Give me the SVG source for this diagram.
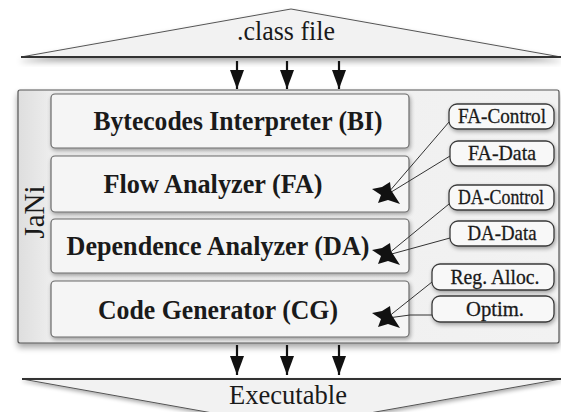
<svg xmlns="http://www.w3.org/2000/svg" xmlns:xlink="http://www.w3.org/1999/xlink" width="561" height="412" viewBox="0 0 561 412">
<defs>
<style>
.big{font-family:"Liberation Serif",serif;font-size:27px;fill:#1a1a1a;text-anchor:middle}
.mod{font-family:"Liberation Serif",serif;font-size:27px;font-weight:bold;fill:#1a1a1a;text-anchor:middle}
.lab{font-family:"Liberation Serif",serif;font-size:21px;fill:#1a1a1a;stroke:#1a1a1a;stroke-width:0.3;text-anchor:middle}
.box{fill:#f5f5f5;stroke:#6a6a6a;stroke-width:1.2}
.pill{fill:#f8f8f8;stroke:#3a3a3a;stroke-width:1.3}
.tri{fill:#f2f2f2;stroke:#555;stroke-width:1}
.con{stroke:#333;stroke-width:1;fill:none}
.arr{stroke:#111;stroke-width:2.2;fill:none}
.blob{fill:#111}
</style>
<filter id="sh" x="-10%" y="-20%" width="120%" height="150%">
<feGaussianBlur in="SourceAlpha" stdDeviation="2"/>
<feOffset dx="1" dy="2"/>
<feComponentTransfer><feFuncA type="linear" slope="0.35"/></feComponentTransfer>
<feMerge><feMergeNode/><feMergeNode in="SourceGraphic"/></feMerge>
</filter>
<filter id="shb" x="-5%" y="-10%" width="110%" height="130%">
<feGaussianBlur in="SourceAlpha" stdDeviation="3"/>
<feOffset dx="0" dy="4"/>
<feComponentTransfer><feFuncA type="linear" slope="0.35"/></feComponentTransfer>
<feMerge><feMergeNode/><feMergeNode in="SourceGraphic"/></feMerge>
</filter>
<linearGradient id="og" x1="0" y1="0" x2="1" y2="0">
<stop offset="0" stop-color="#dedede"/>
<stop offset="0.06" stop-color="#ededed"/>
<stop offset="1" stop-color="#f2f2f2"/>
</linearGradient>
<marker id="ah" markerWidth="19" markerHeight="14" refX="19" refY="7" orient="auto" markerUnits="userSpaceOnUse" viewBox="0 0 19 14">
<path d="M0,0 L19,7 L0,14 Z" fill="#111"/>
</marker>
<path id="blob" class="blob" d="M-15,-4 L-5,-6 L3,-11 L4,-3 L13,11 L1,7 L-9,10 L-6,2 Z"/>
</defs>
<rect x="0" y="0" width="561" height="412" fill="#ffffff"/>

<g id="class-file">
<polygon class="tri" points="21,57 291,9 561,57" filter="url(#shb)"/>
<line x1="21" y1="57" x2="561" y2="57" stroke="#333" stroke-width="2"/>
<text class="big" x="286" y="40" textLength="98" lengthAdjust="spacingAndGlyphs">.class file</text>
</g>

<g id="executable">
<polygon class="tri" points="22,379 561,379 291,427" filter="url(#sh)"/>
<line x1="22" y1="379" x2="561" y2="379" stroke="#333" stroke-width="2"/>
<text class="big" x="288" y="404" textLength="118" lengthAdjust="spacingAndGlyphs">Executable</text>
</g>

<g id="jani">
<rect x="18" y="90" width="541" height="253" rx="2" fill="url(#og)" stroke="#555" stroke-width="1.2" filter="url(#shb)"/>
<text class="big" style="font-size:29px" transform="translate(44,212) rotate(-90)" x="0" y="0">JaNi</text>
</g>

<g id="bi">
<rect class="box" x="51" y="94" width="358" height="54" rx="4" filter="url(#sh)"/>
<text class="mod" x="238" y="130" textLength="289" lengthAdjust="spacingAndGlyphs">Bytecodes Interpreter (BI)</text>
</g>
<g id="fa">
<rect class="box" x="51" y="156" width="358" height="56" rx="4" filter="url(#sh)"/>
<text class="mod" x="213" y="193" textLength="219" lengthAdjust="spacingAndGlyphs">Flow Analyzer (FA)</text>
</g>
<g id="da">
<rect class="box" x="51" y="219" width="358" height="54" rx="4" filter="url(#sh)"/>
<text class="mod" x="218" y="255" textLength="303" lengthAdjust="spacingAndGlyphs">Dependence Analyzer (DA)</text>
</g>
<g id="cg">
<rect class="box" x="51" y="281" width="358" height="56" rx="4" filter="url(#sh)"/>
<text class="mod" x="218" y="319" textLength="240" lengthAdjust="spacingAndGlyphs">Code Generator (CG)</text>
</g>

<g id="fa-control">
<rect class="pill" x="449" y="104" width="105" height="25" rx="8" filter="url(#sh)"/>
<text class="lab" x="502" y="123" textLength="88" lengthAdjust="spacingAndGlyphs">FA-Control</text>
</g>
<g id="fa-data">
<rect class="pill" x="450" y="141" width="104" height="25" rx="8" filter="url(#sh)"/>
<text class="lab" x="502" y="160" textLength="68" lengthAdjust="spacingAndGlyphs">FA-Data</text>
</g>
<g id="da-control">
<rect class="pill" x="449" y="185" width="105" height="25" rx="8" filter="url(#sh)"/>
<text class="lab" x="501" y="204" textLength="86" lengthAdjust="spacingAndGlyphs">DA-Control</text>
</g>
<g id="da-data">
<rect class="pill" x="450" y="221" width="104" height="25" rx="8" filter="url(#sh)"/>
<text class="lab" x="502" y="240" textLength="69" lengthAdjust="spacingAndGlyphs">DA-Data</text>
</g>
<g id="reg-alloc">
<rect class="pill" x="432" y="264" width="122" height="26" rx="8" filter="url(#sh)"/>
<text class="lab" x="495" y="284" textLength="89" lengthAdjust="spacingAndGlyphs">Reg. Alloc.</text>
</g>
<g id="optim">
<rect class="pill" x="432" y="296" width="122" height="26" rx="8" filter="url(#sh)"/>
<text class="lab" x="495" y="316" textLength="58" lengthAdjust="spacingAndGlyphs">Optim.</text>
</g>

<g id="connectors">
<line class="arr" x1="237" y1="61" x2="237" y2="89" marker-end="url(#ah)"/>
<line class="arr" x1="287" y1="61" x2="287" y2="89" marker-end="url(#ah)"/>
<line class="arr" x1="339" y1="61" x2="339" y2="89" marker-end="url(#ah)"/>
<line class="arr" x1="237" y1="345" x2="237" y2="375" marker-end="url(#ah)"/>
<line class="arr" x1="287" y1="345" x2="287" y2="375" marker-end="url(#ah)"/>
<line class="arr" x1="339" y1="345" x2="339" y2="375" marker-end="url(#ah)"/>

<polyline class="con" points="449,122 388,193"/>
<polyline class="con" points="450,156 388,194"/>
<use href="#blob" xlink:href="#blob" x="387" y="193"/>

<polyline class="con" points="449,204 388,254"/>
<polyline class="con" points="450,238 388,255"/>
<use href="#blob" xlink:href="#blob" x="387" y="254"/>

<polyline class="con" points="432,282 388,317"/>
<polyline class="con" points="432,315 410,315 388,318"/>
<use href="#blob" xlink:href="#blob" x="387" y="317"/>
</g>
</svg>
